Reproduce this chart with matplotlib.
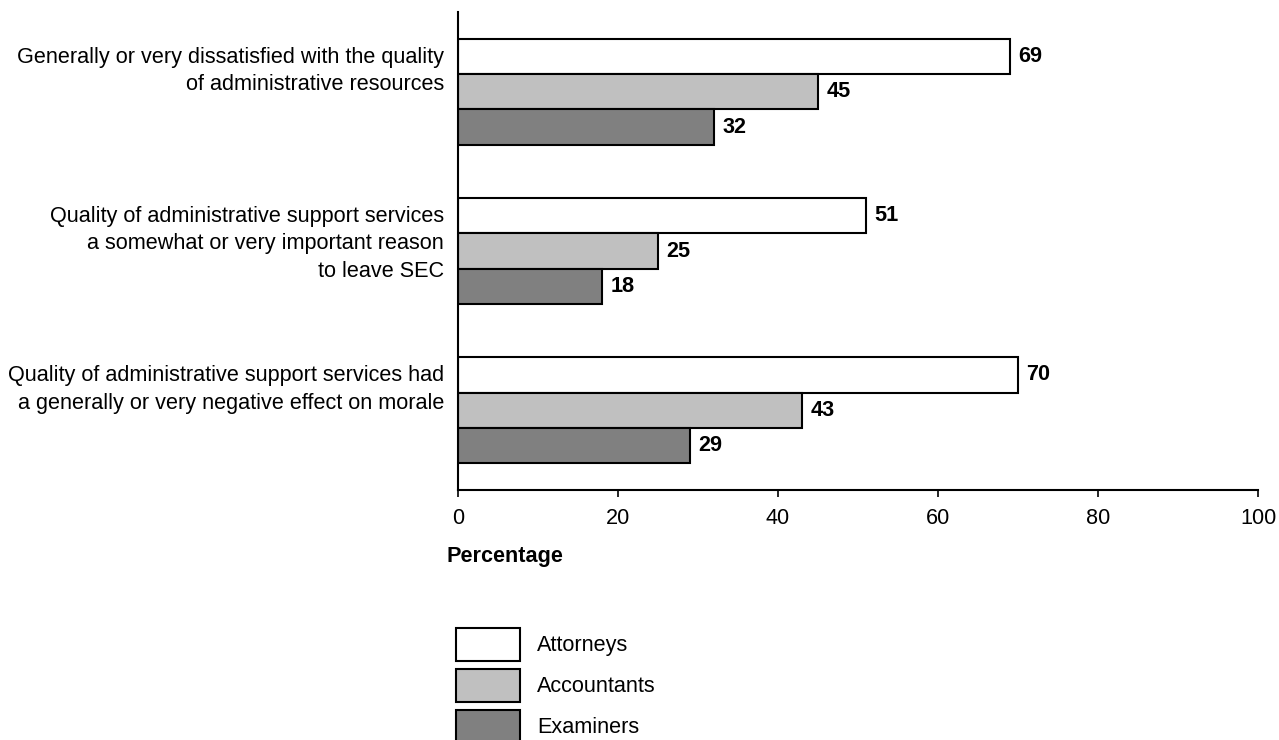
import matplotlib
matplotlib.use("Agg")
import matplotlib.pyplot as plt
import numpy as np

plt.rcParams['font.family'] = ['Liberation Sans', 'DejaVu Sans']

categories = [
    "Generally or very dissatisfied with the quality\nof administrative resources",
    "Quality of administrative support services\na somewhat or very important reason\nto leave SEC",
    "Quality of administrative support services had\na generally or very negative effect on morale",
]
series_names = ["Attorneys", "Accountants", "Examiners"]
attorneys = [69, 51, 70]
accountants = [45, 25, 43]
examiners = [32, 18, 29]
xticks = [0, 20, 40, 60, 80, 100]

colors = ["#ffffff", "#c0c0c0", "#808080"]
FS = 15.6

fig = plt.figure(figsize=(12.79, 7.40), dpi=100)
W, H = 1279, 740
ax = fig.add_axes([458 / W, 1 - 490 / H, 800 / W, 478 / H])

y = np.arange(len(categories))
bh = 0.222
series = [attorneys, accountants, examiners]
for i, (vals, name, col) in enumerate(zip(series, series_names, colors)):
    ypos = y + (i - 1) * bh
    bars = ax.barh(ypos, vals, height=bh, color=col, edgecolor="black",
                   linewidth=1.5, label=name)
    for b, v in zip(bars, vals):
        ax.annotate(f"{v}", xy=(b.get_width(), b.get_y() + b.get_height() / 2),
                    xytext=(6, 0), textcoords="offset points",
                    ha="left", va="center", fontsize=FS, fontweight="bold")

ax.set_xlim(0, 100)
ax.set_ylim(2.5, -0.5)
# labels are top-aligned with the top of each bar group
ax.set_yticks(y - 1.5 * bh + 0.05)
ax.set_yticklabels(categories, fontsize=FS, ha="right", va="top", linespacing=1.4)
ax.tick_params(axis="y", length=0, pad=10)
ax.set_xticks(xticks)
ax.set_xticklabels([str(t) for t in xticks], fontsize=FS)
ax.tick_params(axis="x", length=5, width=1.2, pad=8, direction="out")

for s in ["top", "right"]:
    ax.spines[s].set_visible(False)
for s in ["left", "bottom"]:
    ax.spines[s].set_linewidth(1.5)

ax.set_xlabel("Percentage", fontsize=FS, fontweight="bold", loc="left")
ax.xaxis.set_label_coords(-0.014, -0.117)
ax.xaxis.label.set_ha("left")

leg = fig.legend(loc="upper left", bbox_to_anchor=(456 / W, 1 - 628 / H),
                 frameon=False, fontsize=FS, handlelength=2.95, handleheight=1.96,
                 labelspacing=0.37, handletextpad=0.78, borderpad=0,
                 borderaxespad=0)

fig.savefig("out.png", dpi=100)
